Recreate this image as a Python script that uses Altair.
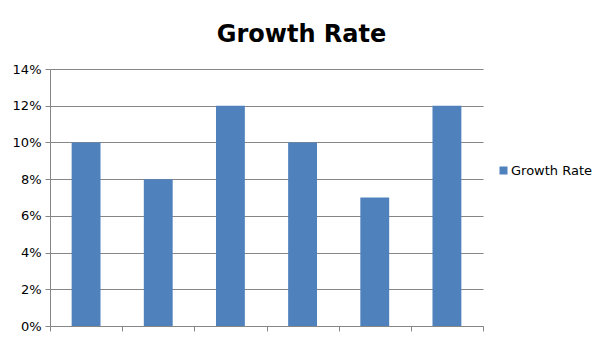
import altair as alt
import pandas as pd

categories = ["1", "2", "3", "4", "5", "6"]
values = [0.10, 0.08, 0.12, 0.10, 0.07, 0.12]
series = ["Growth Rate"] * 6
y_ticks = [0, 0.02, 0.04, 0.06, 0.08, 0.10, 0.12, 0.14]

df = pd.DataFrame({"cat": categories, "value": values, "series": series})

gray = "#868686"

chart = alt.Chart(df).mark_bar(color="#4F81BD", width=alt.RelativeBandSize(0.4)).encode(
    x=alt.X("cat:N", sort=None, title=None,
            scale=alt.Scale(paddingInner=0, paddingOuter=0),
            axis=alt.Axis(labels=False, ticks=True, tickBand="extent", tickSize=5,
                          domainColor=gray, tickColor=gray, grid=False)),
    y=alt.Y("value:Q", title=None,
            scale=alt.Scale(domain=[0, 0.14], nice=False),
            axis=alt.Axis(values=y_ticks, format=".0%", tickSize=5, labelPadding=4,
                          domainColor=gray, tickColor=gray, gridColor=gray,
                          labelFont="DejaVu Sans", labelFontSize=13, labelColor="#000000")),
    color=alt.Color("series:N", scale=alt.Scale(domain=["Growth Rate"], range=["#4F81BD"]),
                    legend=alt.Legend(title=None, orient="none", legendX=447, legendY=95,
                                      symbolType="square", symbolSize=64, symbolStrokeWidth=0,
                                      labelFont="DejaVu Sans", labelFontSize=13, labelColor="#000000",
                                      labelOffset=1)),
).properties(
    width=433, height=257,
    title=alt.TitleParams("Growth Rate", font="DejaVu Sans", fontSize=24, fontWeight="bold",
                          color="#000000", anchor="middle", dx=35, offset=16),
    padding={"left": 50, "top": 69, "right": 122, "bottom": 14},
    autosize=alt.AutoSizeParams(type="none"),
).configure_view(stroke=None).configure_axis(labelFont="DejaVu Sans")

chart.save("out.html", embed_options={"renderer": "svg", "actions": False})
